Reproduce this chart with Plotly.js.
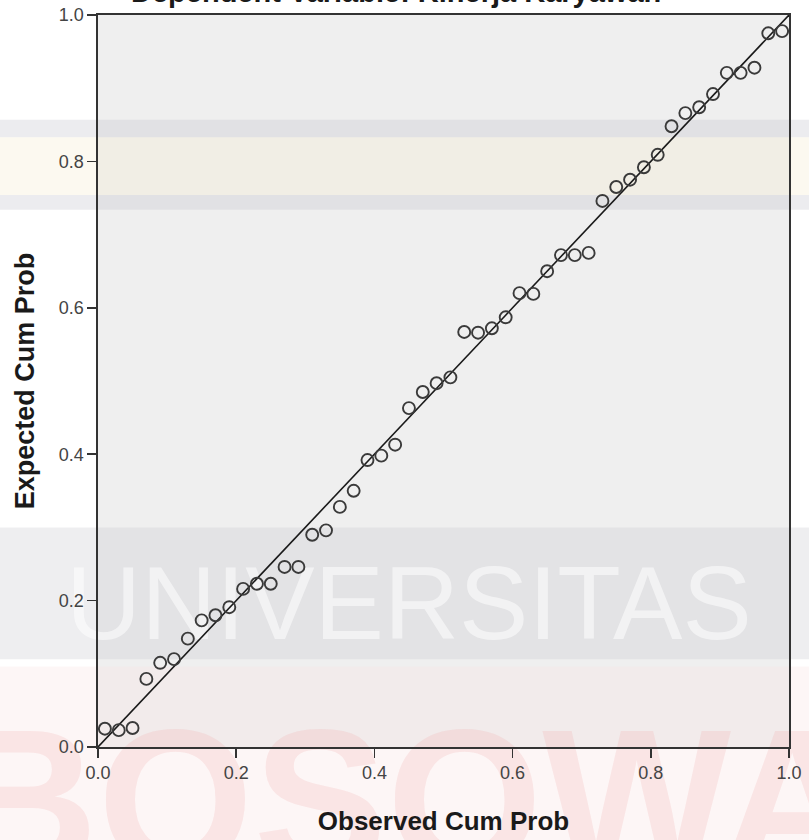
<!DOCTYPE html>
<html>
<head>
<meta charset="utf-8">
<script src="https://cdn.plot.ly/plotly-3.0.1.min.js"></script>
<style>html,body{margin:0;padding:0;background:#fff;}#chart{width:809px;height:840px;}</style>
</head>
<body>
<div id="chart"></div>
<script>
// ---- data ----
const chartTitle = "Dependent Variable: Kinerja Karyawan";
const xTitle = "Observed Cum Prob";
const yTitle = "Expected Cum Prob";
const tickValues = [0, 0.2, 0.4, 0.6, 0.8, 1.0];
const tickLabels = ["0.0", "0.2", "0.4", "0.6", "0.8", "1.0"];
const observedCumProb = [0.01,0.03,0.05,0.07,0.09,0.11,0.13,0.15,0.17,0.19,
  0.21,0.23,0.25,0.27,0.29,0.31,0.33,0.35,0.37,0.39,
  0.41,0.43,0.45,0.47,0.49,0.51,0.53,0.55,0.57,0.59,
  0.61,0.63,0.65,0.67,0.69,0.71,0.73,0.75,0.77,0.79,
  0.81,0.83,0.85,0.87,0.89,0.91,0.93,0.95,0.97,0.99];
const expectedCumProb = [0.025,0.023,0.026,0.093,0.115,0.120,0.148,0.173,0.180,0.191,
  0.216,0.223,0.223,0.246,0.246,0.290,0.296,0.328,0.350,0.392,
  0.398,0.413,0.463,0.485,0.497,0.505,0.567,0.566,0.572,0.587,
  0.620,0.619,0.650,0.672,0.672,0.675,0.746,0.765,0.775,0.792,
  0.809,0.848,0.866,0.874,0.892,0.921,0.921,0.928,0.975,0.978];
const refLineX = [0, 1];
const refLineY = [0, 1];
const watermarkTop = "UNIVERSITAS";
const watermarkBottom = "BOSOWA";

const FONT = "Liberation Sans, Arial, sans-serif";

const traces = [
  {x: refLineX, y: refLineY, mode: "lines", type: "scatter",
   line: {color: "#1a1a1a", width: 1.6}, hoverinfo: "skip", showlegend: false},
  {x: observedCumProb, y: expectedCumProb, mode: "markers", type: "scatter",
   marker: {symbol: "circle-open", size: 12, color: "#3a3a3a", line: {width: 1.9, color: "#3a3a3a"}},
   showlegend: false}
];

function band(y0, y1, fill, label) {
  const s = {type: "rect", xref: "paper", yref: "paper", x0: -0.2, x1: 1.1, y0: y0, y1: y1,
    fillcolor: fill, line: {width: 0}, layer: "below"};
  if (label) s.label = label;
  return s;
}

const axisCommon = {
  range: [0, 1], tickvals: tickValues, ticktext: tickLabels,
  ticks: "outside", ticklen: 9, tickwidth: 1.5, tickcolor: "#333",
  showline: true, linecolor: "#333", linewidth: 1.6, mirror: true,
  showgrid: false, zeroline: false, fixedrange: true,
  tickfont: {family: FONT, size: 18, color: "#444"}
};

const layout = {
  width: 809, height: 840,
  margin: {l: 98, r: 20, t: 15, b: 93, autoexpand: false},
  paper_bgcolor: "#ffffff",
  plot_bgcolor: "rgba(0,0,0,0)",
  xaxis: Object.assign({}, axisCommon, {
    title: {text: xTitle, standoff: 29, font: {family: FONT, size: 26, weight: "bold", color: "#1a1a1a"}}
  }),
  yaxis: Object.assign({}, axisCommon, {
    title: {text: yTitle, standoff: 16, font: {family: FONT, size: 27, weight: "bold", color: "#1a1a1a"}}
  }),
  shapes: [
    // plot area background
    {type: "rect", xref: "paper", yref: "paper", x0: 0, x1: 1, y0: 0, y1: 1,
     fillcolor: "#efefef", line: {width: 0}, layer: "below"},
    // faint watermark bands
    band(0.833, 0.857, "rgba(200,200,208,0.35)"),
    band(0.754, 0.833, "rgba(245,236,205,0.3)"),
    band(0.734, 0.754, "rgba(200,200,208,0.35)"),
    band(0.120, 0.300, "rgba(205,205,212,0.35)",
      {text: watermarkTop, font: {family: FONT, size: 104, color: "rgba(255,255,255,0.55)"},
       textposition: "middle center"}),
    band(-0.128, 0.110, "rgba(250,225,225,0.3)",
      {text: watermarkBottom, font: {family: FONT, size: 200, weight: "bold", color: "rgba(240,170,170,0.22)"},
       textposition: "top center"})
  ],
  annotations: [
    {text: "<b>" + chartTitle + "</b>", xref: "paper", yref: "paper", x: 0.431, y: 1.007,
     xanchor: "center", yanchor: "bottom", showarrow: false,
     font: {family: FONT, size: 29, color: "#1a1a1a"}}
  ]
};

Plotly.newPlot("chart", traces, layout, {displayModeBar: false, staticPlot: true});
</script>
</body>
</html>
